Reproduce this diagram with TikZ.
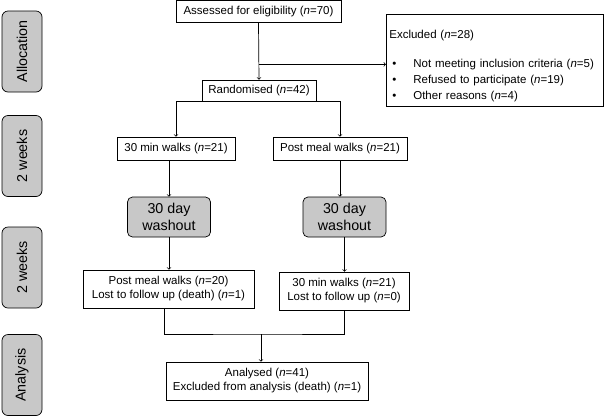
\documentclass[tikz,border=0pt]{standalone}
\usepackage{fontspec}
\setmainfont{Liberation Sans}
\definecolor{tabgray}{RGB}{200,200,200}
\begin{document}
\begin{tikzpicture}[x=1pt,y=-1pt,
		box/.style={draw, line width=0.7pt, inner sep=2pt, align=center, font=\fontsize{11.5}{14}\selectfont},
		tab/.style={draw, line width=0.7pt, rounded corners=6pt, fill=tabgray, rotate=90, minimum width=81pt, minimum height=40pt, inner sep=0pt, font=\fontsize{14.3}{17}\selectfont},
		washout/.style={draw, line width=0.7pt, rounded corners=5pt, fill=tabgray, minimum width=83pt, minimum height=40pt, inner sep=0pt, align=center, font=\fontsize{14.3}{17}\selectfont},
		line width=0.7pt]
		\useasboundingbox (0,0) rectangle (610,416);

		% side tabs
		\node[tab] (tabAlloc) at (22,51.5) {Allocation};
		\node[tab] (tabWeeksA) at (22,156) {2 weeks};
		\node[tab] (tabWeeksB) at (22,267.5) {2 weeks};
		\node[tab] (tabAnal) at (22,375) {Analysis};

		% boxes
		\node[box, minimum width=165pt, minimum height=22pt] (assess) at (258.5,11.5) {Assessed for eligibility (\textit{n}=70)};
		\node[box, anchor=north west, text width=211pt, minimum height=92pt, inner xsep=3pt, align=left, font=\fontsize{11.5}{16}\selectfont] (excl) at (386,14) {\rule{0pt}{19pt}Excluded (\textit{n}=28)\\[13pt]
			\makebox[24pt][l]{\hspace{3pt}•}Not meeting inclusion criteria (\textit{n}=5)\\
			\makebox[24pt][l]{\hspace{3pt}•}Refused to participate (\textit{n}=19)\\
			\makebox[24pt][l]{\hspace{3pt}•}Other reasons (\textit{n}=4)};
		\node[box, minimum width=114pt, minimum height=21pt] (rand) at (259,90.5) {Randomised (\textit{n}=42)};
		\node[box, minimum width=118pt, minimum height=23pt] (walkA) at (176,148.5) {30 min walks (\textit{n}=21)};
		\node[box, minimum width=134pt, minimum height=23pt] (mealA) at (340,148.5) {Post meal walks (\textit{n}=21)};
		\node[washout] (washL) at (169,217) {30 day\\washout};
		\node[washout] (washR) at (344.5,217) {30 day\\washout};
		\node[box, minimum width=171pt, minimum height=38pt] (mealB) at (168.5,289) {Post meal walks (\textit{n}=20)\\Lost to follow up (death) (\textit{n}=1)};
		\node[box, minimum width=130pt, minimum height=38pt] (walkB) at (344,291) {30 min walks (\textit{n}=21)\\Lost to follow up (\textit{n}=0)};
		\node[box, minimum width=202pt, minimum height=38pt] (anal) at (267,381) {Analysed (\textit{n}=41)\\Excluded from analysis (death) (\textit{n}=1)};

		% connectors
		\coordinate (exclIn) at ([yshift=-4pt]excl.west);
		\coordinate (join) at (261,334);
		\draw[->] (assess.south) -- (rand.north);
		\draw[->] (assess.south |- exclIn) -- (exclIn);
		\draw[->] (rand.south west) -| (walkA.north);
		\draw[->] (rand.south east) -| (mealA.north);
		\draw[->] (washL.north |- walkA.south) -- (washL.north);
		\draw[->] (mealA.south) -- (mealA.south |- washR.north);
		\draw[->] (washL.south) -- (washL.south |- mealB.north);
		\draw[->] (washR.south) -- (washR.south |- walkB.north);
		\draw ([xshift=-4pt]mealB.south) |- (join) -| (walkB.south);
		\draw[->] (join) -- (join |- anal.north);
	\end{tikzpicture}
\end{document}
